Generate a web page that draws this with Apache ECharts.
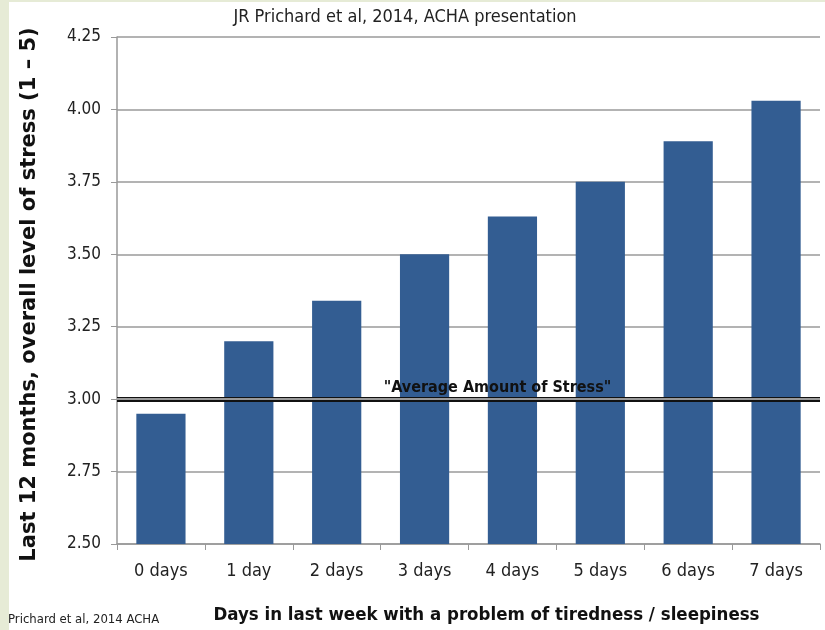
<!DOCTYPE html>
<html>
<head>
<meta charset="utf-8">
<script src="https://cdn.jsdelivr.net/npm/echarts@6/dist/echarts.min.js"></script>
<style>
  html, body { margin: 0; padding: 0; background: #ffffff; }
  #frame { position: absolute; left: 0; top: 0; width: 825px; height: 630px;
           background: #ffffff; border-left: 9px solid #e6ebd6; border-top: 2px solid #e6ebd6; box-sizing: border-box; }
  #chart { position: absolute; left: 0; top: 0; width: 825px; height: 630px; }
</style>
</head>
<body>
<div id="frame"></div>
<div id="chart"></div>
<script>
// Days per week with a tiredness / sleepiness problem
var categories = ['0 days', '1 day', '2 days', '3 days', '4 days', '5 days', '6 days', '7 days'];
// Mean self-reported stress over the last 12 months (scale 1–5)
var stressValues = [2.95, 3.20, 3.34, 3.50, 3.63, 3.75, 3.89, 4.03];
// Reference level for an average amount of stress
var averageStress = 3.00;
var yTicks = { min: 2.5, max: 4.25, interval: 0.25 };

var narrow = '"Liberation Sans Narrow", "DejaVu Sans Condensed", sans-serif';

var chart = echarts.init(document.getElementById('chart'), null, { renderer: 'canvas' });
chart.setOption({
  backgroundColor: 'transparent',
  animation: false,
  title: [{
    text: 'JR Prichard et al, 2014, ACHA presentation',
    left: 400, top: 3, textAlign: 'center',
    textStyle: { fontFamily: narrow, fontSize: 18, fontWeight: 'normal', color: '#222' }
  }, {
    text: 'Prichard et al, 2014 ACHA',
    left: 3, top: 608,
    textStyle: { fontFamily: narrow, fontSize: 13, fontWeight: 'normal', color: '#222' }
  }],
  grid: { left: 117, right: 5, top: 37, bottom: 85 },
  xAxis: {
    type: 'category',
    data: categories,
    name: 'Days in last week with a problem of tiredness / sleepiness',
    nameLocation: 'middle',
    nameGap: 62,
    nameTextStyle: { fontFamily: narrow, fontSize: 18.5, fontWeight: 'bold', color: '#111', padding: [0, 0, 0, 36] },
    axisLine: { lineStyle: { color: '#999', width: 1.5 } },
    axisTick: { show: true, length: 6, lineStyle: { color: '#999' } },
    axisLabel: { fontFamily: narrow, fontSize: 18, color: '#222', margin: 18 }
  },
  yAxis: {
    type: 'value',
    min: yTicks.min, max: yTicks.max, interval: yTicks.interval,
    name: 'Last 12 months, overall level of stress (1 – 5)',
    nameLocation: 'middle',
    nameGap: 77,
    nameTextStyle: { fontFamily: '"DejaVu Sans", Verdana, sans-serif', fontSize: 21, fontWeight: 'bold', color: '#111',
                     padding: [0, 8, 0, 0] },
    axisLine: { show: true, lineStyle: { color: '#999', width: 1.5 } },
    axisTick: { show: true, length: 6, lineStyle: { color: '#999' } },
    axisLabel: { fontFamily: narrow, fontSize: 17, color: '#222', margin: 16,
                 formatter: function (v) { return v.toFixed(2); } },
    splitLine: { show: true, lineStyle: { color: '#9a9a9a', width: 1.5 } }
  },
  series: [{
    type: 'bar',
    data: stressValues,
    barWidth: '56%',
    itemStyle: { color: '#335d92' },
    markLine: {
      silent: true,
      symbol: 'none',
      animation: false,
      data: [
        { yAxis: averageStress,
          lineStyle: { color: '#111', width: 5, type: 'solid' },
          label: {
            show: true, position: 'middle', formatter: '"Average Amount of Stress"',
            fontFamily: narrow, fontSize: 16, fontWeight: 'bold', color: '#111',
            distance: 3, padding: [0, 0, 0, 58]
          } },
        { yAxis: averageStress,
          lineStyle: { color: '#c8c8c8', width: 1.5, type: 'solid' },
          label: { show: false } }
      ]
    }
  }]
});
</script>
</body>
</html>
